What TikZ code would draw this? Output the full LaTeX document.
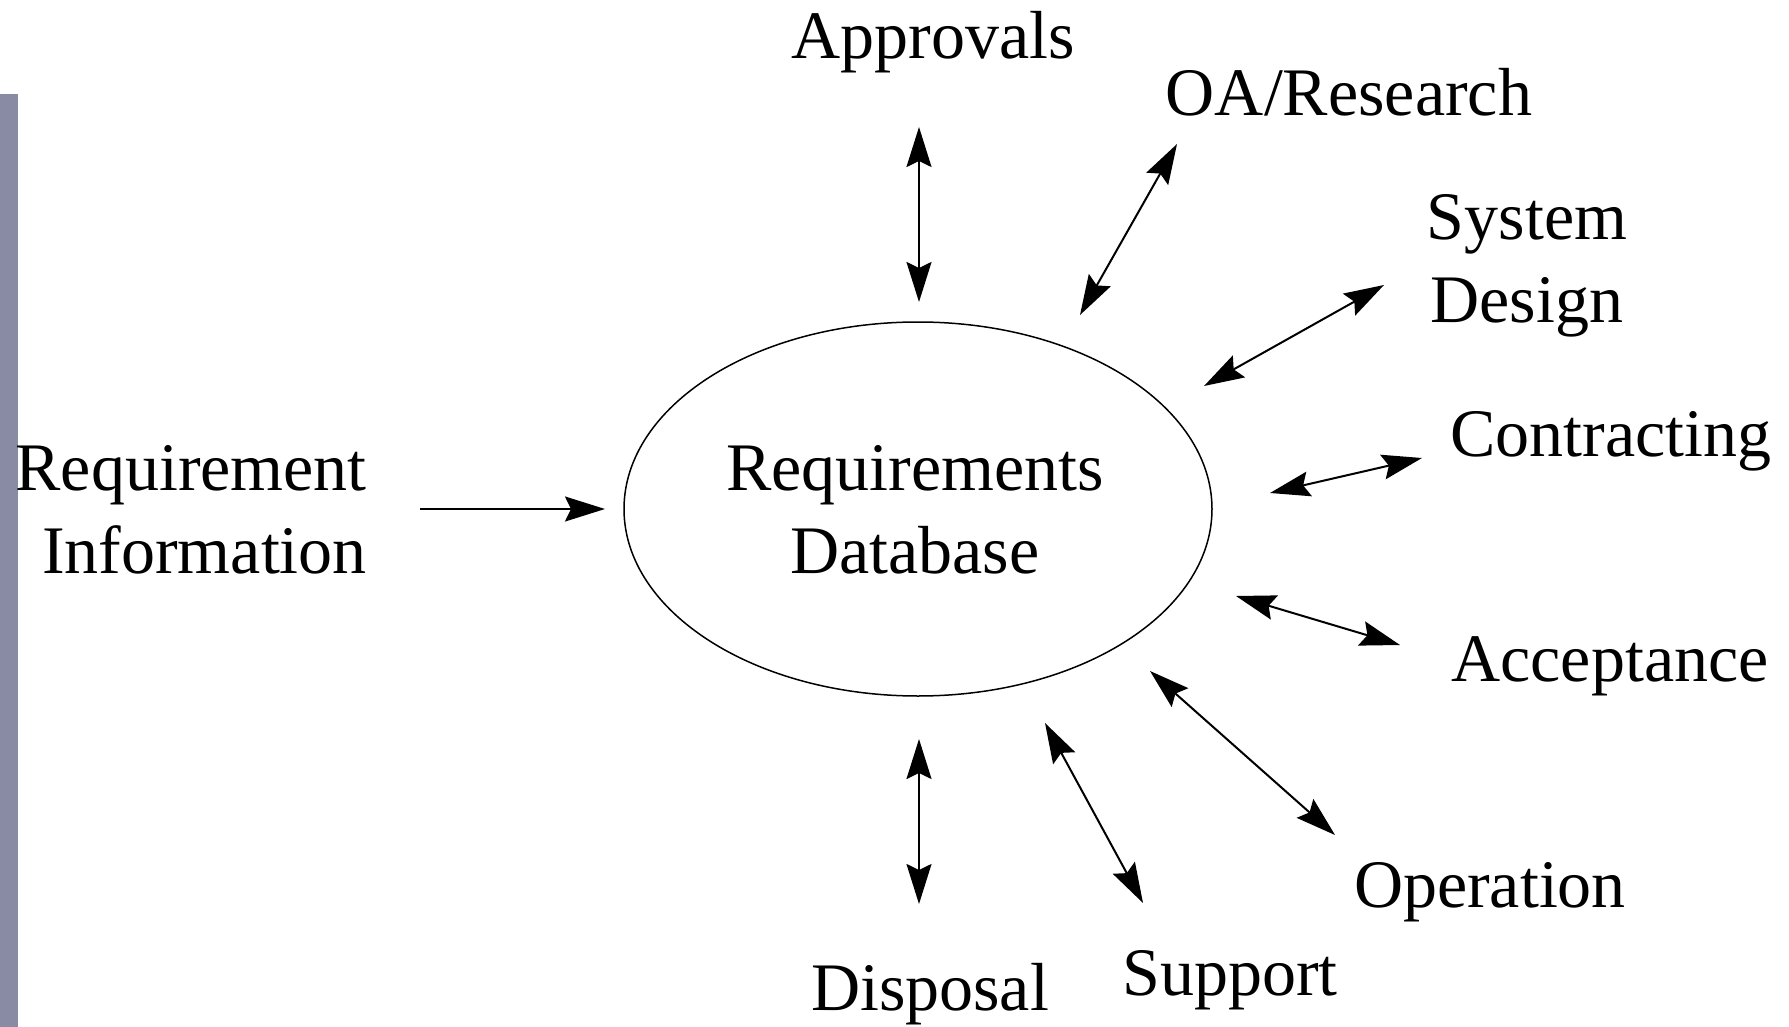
\documentclass[tikz,border=0pt]{standalone}
\usepackage{fontspec}
\setmainfont{Liberation Serif}
\usetikzlibrary{arrows.meta,shapes.geometric}
\definecolor{barcol}{RGB}{136,139,163}
\begin{document}
\begin{tikzpicture}[x=1pt,y=-1pt,
  lbl/.style={font=\fontsize{68}{83}\selectfont, inner sep=0pt},
  conn/.style={line width=2pt, {Stealth[length=40pt,width=25pt,inset=6pt]}-{Stealth[length=40pt,width=25pt,inset=6pt]}},
  oneway/.style={line width=2pt, -{Stealth[length=40pt,width=25pt,inset=6pt]}}]
\useasboundingbox (0,0) rectangle (1789,1027);
\fill[barcol] (0,94) rectangle (18,1027);
\node[draw, line width=1.5pt, ellipse, minimum width=588pt, minimum height=374pt, inner sep=0pt] (db) at (918,509) {};
\node[lbl, align=center] (dbt) at (915,510) {Requirements\\Database};
\node[lbl, align=right, anchor=east] (ri) at (367,510) {Requirement\\Information};
\node[lbl] (appr) at (933,42) {Approvals};
\node[lbl] (oa) at (1349,92) {OA/Research};
\node[lbl, align=center] (sd) at (1527,266) {System\\Design};
\node[lbl] (ctr) at (1611,441) {Contracting};
\node[lbl] (acc) at (1610,666) {Acceptance};
\node[lbl] (op) at (1490,892) {Operation};
\node[lbl] (sup) at (1230,980) {Support};
\node[lbl] (disp) at (930,994) {Disposal};
% arrow end points
\coordinate (a1) at (919,127);  \coordinate (a2) at (919,302);
\coordinate (b1) at (1177,144); \coordinate (b2) at (1080,315);
\coordinate (c1) at (1384,285); \coordinate (c2) at (1204,386);
\coordinate (d1) at (1422,458); \coordinate (d2) at (1270,493);
\coordinate (e1) at (1236,596); \coordinate (e2) at (1400,645);
\coordinate (f1) at (1150,671); \coordinate (f2) at (1335,835);
\coordinate (g1) at (1045,723); \coordinate (g2) at (1143,903);
\coordinate (h1) at (919,739);  \coordinate (h2) at (919,904);
\coordinate (r1) at (420,509);  \coordinate (r2) at (605,509);
\draw[conn] (a1) -- (a2);
\draw[conn] (b1) -- (b2);
\draw[conn] (c1) -- (c2);
\draw[conn] (d1) -- (d2);
\draw[conn] (e1) -- (e2);
\draw[conn] (f1) -- (f2);
\draw[conn] (g1) -- (g2);
\draw[conn] (h1) -- (h2);
\draw[oneway] (r1) -- (r2);
\end{tikzpicture}
\end{document}
